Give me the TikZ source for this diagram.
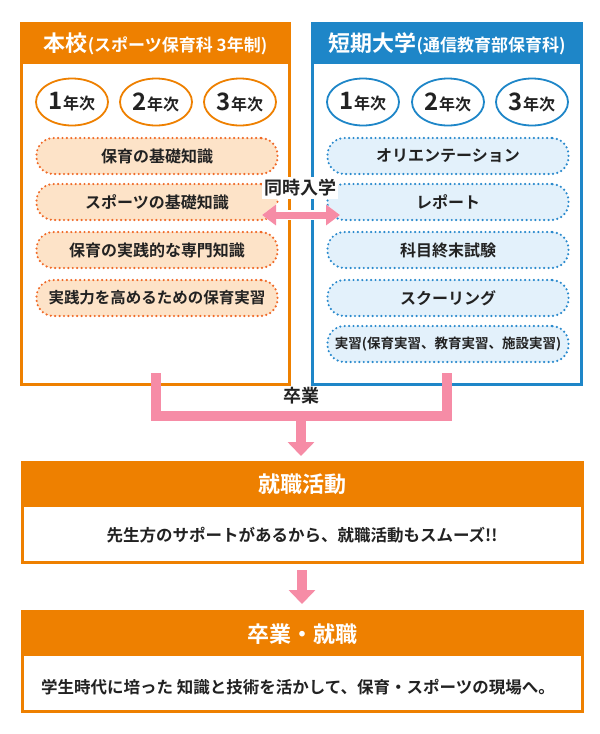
\documentclass[tikz,border=0pt]{standalone}
\usepackage{fontspec}
\setmainfont{Noto Sans CJK JP}[BoldFont={Noto Sans CJK JP Bold}]
\usetikzlibrary{arrows.meta,shapes.geometric}
\definecolor{org}{HTML}{EE8000}
\definecolor{blu}{HTML}{1E86C8}
\definecolor{pnk}{HTML}{F68CA6}
\definecolor{opill}{HTML}{FDE3C8}
\definecolor{odot}{HTML}{F06A28}
\definecolor{bpill}{HTML}{E3F1FB}
\definecolor{bdot}{HTML}{2A8ACD}
\definecolor{txt}{HTML}{222222}
\begin{document}
\begin{tikzpicture}[x=1pt,y=-1pt,
  yr/.style={ellipse,draw=#1,line width=1.8pt,fill=white,minimum width=72pt,minimum height=47pt,inner sep=0pt,text=txt,font=\bfseries\fontsize{16}{16}\selectfont},
  pill/.style={rounded corners=17pt,draw=#1,line width=2.4pt,line cap=round,dash pattern=on 0pt off 4.4pt,minimum width=241pt,minimum height=36pt,inner sep=0pt,text=txt,font=\bfseries\fontsize{16}{16}\selectfont},
  hdr/.style={text=white,font=\bfseries\fontsize{22}{22}\selectfont},
  body/.style={text=txt,font=\bfseries\fontsize{16.5}{16.5}\selectfont}]
\useasboundingbox (0,0) rectangle (600,734);
\fill[white] (0,0) rectangle (600,734);
% panels
\draw[org,line width=3pt,fill=white] (21.5,23.5) rectangle (289.5,384.5);
\fill[org] (20,22) rectangle (291,64);
\draw[blu,line width=3pt,fill=white] (312.5,23.5) rectangle (581.5,384.5);
\fill[blu] (311,22) rectangle (583,64);
\node[hdr] (h1) at (155.5,44) {本校{\fontsize{17}{17}\selectfont (スポーツ保育科 3年制)}};
\node[hdr] (h2) at (447,44) {短期大学{\fontsize{17}{17}\selectfont (通信教育部保育科)}};
% years
\foreach \n/\x in {1/72,2/156,3/240}{
  \node[yr=org] (l\n) at (\x,102) {{\fontsize{24}{24}\selectfont\n}年次};}
\foreach \n/\x in {1/363,2/448,3/532}{
  \node[yr=blu] (r\n) at (\x,102) {{\fontsize{24}{24}\selectfont\n}年次};}
% pills
\foreach \i/\y/\t in {1/156/保育の基礎知識,2/202/スポーツの基礎知識,3/250/保育の実践的な専門知識}{
  \node[pill=odot,fill=opill] (lp\i) at (157,\y) {\t};}
\node[pill=odot,fill=opill,font=\bfseries\fontsize{15.5}{15.5}\selectfont] (lp4) at (157,298) {実践力を高めるための保育実習};
\foreach \i/\y/\t in {1/156/オリエンテーション,2/202/レポート,3/250/科目終末試験,4/298/スクーリング}{
  \node[pill=bdot,fill=bpill] (rp\i) at (448,\y) {\t};}
\node[pill=bdot,fill=bpill,font=\bfseries\fontsize{13.5}{13.5}\selectfont] (rp5) at (448,344) {実習(保育実習、教育実習、施設実習)};
% simultaneous entry
\node[fill=white,inner sep=2pt,text=txt,font=\bfseries\fontsize{18}{18}\selectfont] (sim) at (300,188) {同時入学};
\coordinate (dl) at (262,215);
\coordinate (dr) at (340,215);
\draw[white,line width=10pt,{Triangle[length=18pt,width=26pt]}-{Triangle[length=18pt,width=26pt]}] (dl) -- (dr);
\draw[pnk,line width=7pt,{Triangle[length=14pt,width=20pt]}-{Triangle[length=14pt,width=20pt]}] (dl) -- (dr);
% graduation connector
\coordinate (ga) at (156,373);
\coordinate (gb) at (447,373);
\coordinate (gm) at (301,416);
\draw[white,line width=16pt] (156,386) -- (156,388) (447,386)--(447,388);
\draw[pnk,line width=10pt] (ga) -- (156,416) -- (447,416) -- (gb);
\node[fill=white,inner sep=2pt,text=txt,font=\bfseries\fontsize{18}{18}\selectfont] (grad) at (301,396) {卒業};
\draw[pnk,line width=10pt,-{Triangle[length=14pt,width=26pt]}] (gm) -- (301,456);
% box 1
\draw[org,line width=3pt,fill=white] (22.5,462.5) rectangle (582.5,562.5);
\fill[org] (21,461) rectangle (584,507);
\node[hdr] (b1h) at (302,484) {就職活動};
\node[body] (b1b) at (302,535) {先生方のサポートがあるから、就職活動もスムーズ!!};
\draw[pnk,line width=10pt,-{Triangle[length=14pt,width=26pt]}] (b1h.south |- 0,570) -- (b1h.south |- 0,604);
% box 2
\draw[org,line width=3pt,fill=white] (22.5,611.5) rectangle (582.5,711.5);
\fill[org] (21,610) rectangle (584,656);
\node[hdr] (b2h) at (302,634) {卒業・就職};
\node[body] (b2b) at (298,687) {学生時代に培った 知識と技術を活かして、保育・スポーツの現場へ。};
\end{tikzpicture}
\end{document}
